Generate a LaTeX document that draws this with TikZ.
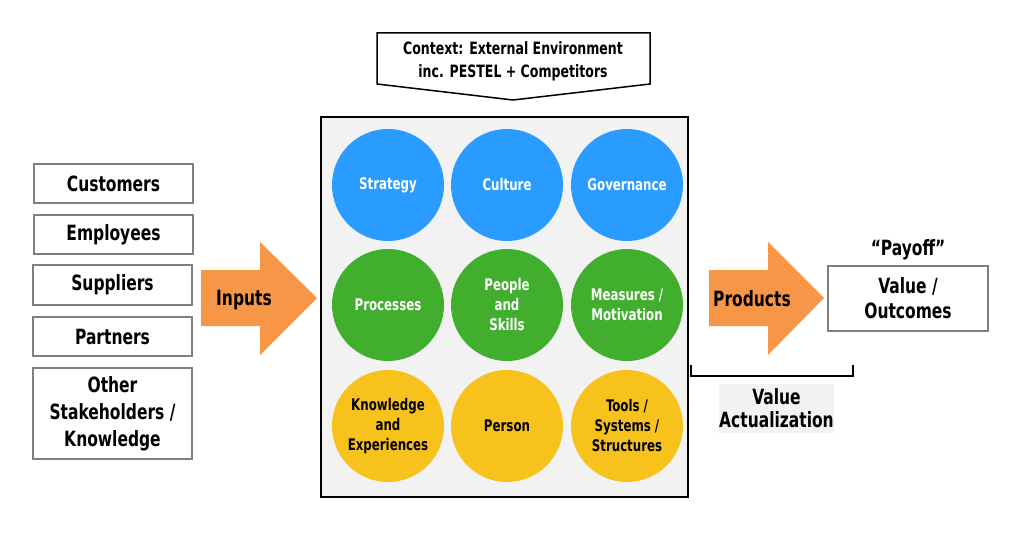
\documentclass[tikz,border=0pt]{standalone}
\usepackage{fontspec}
\setmainfont{DejaVu Sans Condensed}[FakeStretch=0.82]
\usetikzlibrary{positioning}
\definecolor{cblue}{HTML}{2B9CFF}
\definecolor{cgreen}{HTML}{42AE2E}
\definecolor{cyellow}{HTML}{F8C21C}
\definecolor{corange}{HTML}{F79646}
\definecolor{cgray}{HTML}{7F7F7F}
\definecolor{cbg}{HTML}{F2F2F2}
\begin{document}
\begin{tikzpicture}[x=1pt,y=-1pt,
  lbl/.style={font=\bfseries\fontsize{21}{27}\selectfont, align=center},
  inbox/.style={draw=cgray, line width=1.8pt, fill=white, minimum width=159pt, inner sep=0pt, lbl},
  circ/.style={circle, minimum size=112pt, inner sep=0pt, align=center, font=\bfseries\fontsize{16}{20}\selectfont},
  bluec/.style={circ, fill=cblue, text=white},
  greenc/.style={circ, fill=cgreen, text=white},
  yellowc/.style={circ, fill=cyellow, text=black},
  arrowshape/.style={fill=corange}
]
\useasboundingbox (0,0) rectangle (1024,535);
\fill[white] (0,0) rectangle (1024,535);

% context pentagon
\draw[line width=1.5pt, fill=white] (377,33) -- (650,33) -- (650,84) -- (513,100) -- (377,84) -- cycle;
\node[align=center, font=\bfseries\fontsize{17}{23}\selectfont] (ctx) at (513,61) {Context: External Environment\\inc. PESTEL + Competitors};

% main box
\node[draw=black, line width=2pt, fill=cbg, minimum width=367pt, minimum height=380pt, inner sep=0pt] (main) at (504.5,307) {};

% circles
\node[bluec] (strat) at (388,185) {Strategy};
\node[bluec] (cult) at (507,185) {Culture};
\node[bluec] (gov) at (627,185) {Governance};
\node[greenc] (proc) at (388,305) {Processes};
\node[greenc] (peop) at (507,305) {People\\and\\Skills};
\node[greenc] (meas) at (627,305) {Measures /\\Motivation};
\node[yellowc] (know) at (388,426) {Knowledge\\and\\Experiences};
\node[yellowc] (pers) at (507,426) {Person};
\node[yellowc] (tools) at (627,426) {Tools /\\Systems /\\Structures};

% left boxes
\node[inbox, minimum height=39pt] (cust) at (113.5,183.5) {Customers};
\node[inbox, minimum height=39pt] (empl) at (113.5,234.5) {Employees};
\node[inbox, minimum height=40pt] (supp) at (112.5,285) {Suppliers};
\node[inbox, minimum height=39pt] (part) at (112.5,336.5) {Partners};
\node[inbox, minimum height=91pt] (other) at (112.5,413.5) {Other\\Stakeholders /\\Knowledge};

% inputs arrow
\fill[arrowshape] (201,270) -- (260,270) -- (260,242) -- (317,298) -- (260,355) -- (260,326) -- (201,326) -- cycle;
\node[lbl] (inputs) at (244,300) {Inputs};

% products arrow
\fill[arrowshape] (709,270) -- (768,270) -- (768,242) -- (824,298) -- (768,355) -- (768,326) -- (709,326) -- cycle;
\node[lbl] (prod) at (752,299) {Products};

% value box
\node[inbox, minimum width=160pt, minimum height=65pt, font=\bfseries\fontsize{21}{25}\selectfont] (value) at (908,298.5) {Value /\\Outcomes};
\node[lbl, above=2pt of value] (payoff) {“Payoff”};

% bracket
\coordinate (bl) at (691,365);
\coordinate (br) at (853,365);
\draw[line width=2pt] (bl) -- ++(0,11) -| (br);

% value actualization
\node[fill=cbg, minimum width=115pt, minimum height=49pt, inner sep=0pt, align=center, font=\bfseries\fontsize{21}{23}\selectfont] (va) at (776.5,408.5) {Value\\Actualization};
\end{tikzpicture}
\end{document}
